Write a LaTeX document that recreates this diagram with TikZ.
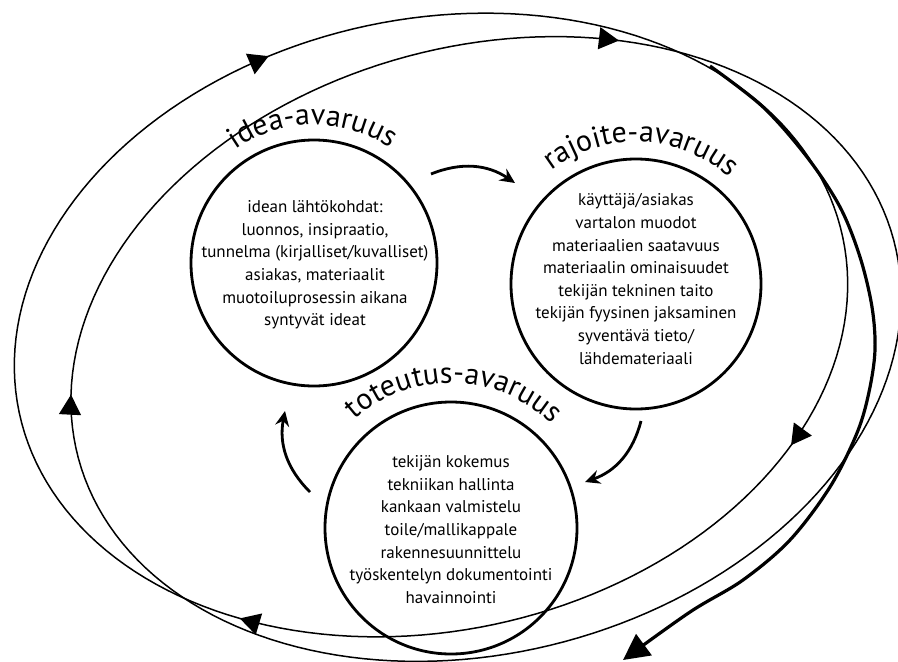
\documentclass[tikz,border=0pt]{standalone}
\usepackage{fontspec}
\setmainfont{PT Sans}
\usetikzlibrary{arrows.meta,decorations.markings,decorations.text}
\begin{document}
\begin{tikzpicture}[x=1pt,y=-1pt,
  loopline/.style={line width=1.5pt},
  bigcirc/.style={circle,draw,line width=2.8pt,inner sep=0pt},
  txt/.style={align=center,font=\fontsize{17}{22.6}\selectfont,inner sep=0pt},
  flow/.style={line width=2.8pt,-{Stealth[length=15pt,width=14pt,inset=5pt]}}
]
\useasboundingbox (0,0) rectangle (898,662);

% two big loops (tilted ellipses, drawn clockwise)
\draw[loopline, postaction={decorate, decoration={markings,
  mark=at position 0.096 with {\arrow{Triangle[length=20pt,width=22pt]}},
  mark=at position 0.362 with {\arrow{Triangle[length=20pt,width=22pt]}},
  mark=at position 0.705 with {\arrow{Triangle[length=20pt,width=22pt]}}}}]
  plot[domain=0:360, samples=181, variable=\t]
  ({431 + 421*cos(-\t)*cos(12) - 306*sin(-\t)*sin(12)}, {325 - 421*cos(-\t)*sin(12) - 306*sin(-\t)*cos(12)}) -- cycle;
\draw[loopline, postaction={decorate, decoration={markings,
  mark=at position 0.528 with {\arrow{Triangle[length=20pt,width=22pt]}},
  mark=at position 0.843 with {\arrow{Triangle[length=20pt,width=22pt]}}}}]
  plot[domain=0:360, samples=181, variable=\t]
  ({486 + 422*cos(-\t)*cos(15) - 303*sin(-\t)*sin(15)}, {349 - 422*cos(-\t)*sin(15) - 303*sin(-\t)*cos(15)}) -- cycle;

% thick arrow
\coordinate (thS) at (710,66);
\coordinate (thE) at (623,660);
\draw[line width=3.2pt, -{Triangle[length=26pt,width=26pt]}]
  plot[smooth, tension=0.55] coordinates {(thS) (763,107) (807,157) (840,207) (860,257) (872,307) (875,350) (869,392) (857,433) (830,487) (790,540) (743,580) (690,612) (thE)};

% circles
\node[bigcirc, minimum size=246pt] (idea) at (314,263) {};
\node[bigcirc, minimum size=250pt] (rajoite) at (636,284) {};
\node[bigcirc, minimum size=252pt] (toteutus) at (451,528) {};

\node[txt] (ideaT) at (315,265) {idean lähtökohdat:\\luonnos, insipraatio,\\tunnelma (kirjalliset/kuvalliset)\\asiakas, materiaalit\\muotoiluprosessin aikana\\syntyvät ideat};
\node[txt] (rajoiteT) at (636,279) {käyttäjä/asiakas\\vartalon muodot\\materiaalien saatavuus\\materiaalin ominaisuudet\\tekijän tekninen taito\\tekijän fyysinen jaksaminen\\syventävä tieto/\\lähdemateriaali};
\node[txt] (toteutusT) at (451,529.5) {tekijän kokemus\\tekniikan hallinta\\kankaan valmistelu\\toile/mallikappale\\rakennesuunnittelu\\työskentelyn dokumentointi\\havainnointi};

% titles
\path[decorate, decoration={text along path, text align=center, text={|\fontsize{30}{30}\selectfont|idea-avaruus}}]
  (idea.center) ++(189.5:138) arc[start angle=189.5, end angle=349.5, radius=138];
\path[decorate, decoration={text along path, text align=center, text={|\fontsize{30}{30}\selectfont|rajoite-avaruus}}]
  (rajoite.center) ++(192.2:142) arc[start angle=192.2, end angle=352.2, radius=142];
\path[decorate, decoration={text along path, text align=center, text={|\fontsize{30}{30}\selectfont|toteutus-avaruus}}]
  (toteutus.center) ++(191.4:145) arc[start angle=191.4, end angle=351.4, radius=145];

% flow arrows
\coordinate (f1s) at (431,174);
\coordinate (f1e) at (515,183);
\coordinate (f2s) at (641,421);
\coordinate (f2e) at (585,482);
\coordinate (f3s) at (310,492);
\coordinate (f3e) at (285,411);
\draw[flow] (f1s) to[bend left=28] (f1e);
\draw[flow] (f2s) to[bend left=28] (f2e);
\draw[flow] (f3s) to[bend left=28] (f3e);
\end{tikzpicture}
\end{document}
